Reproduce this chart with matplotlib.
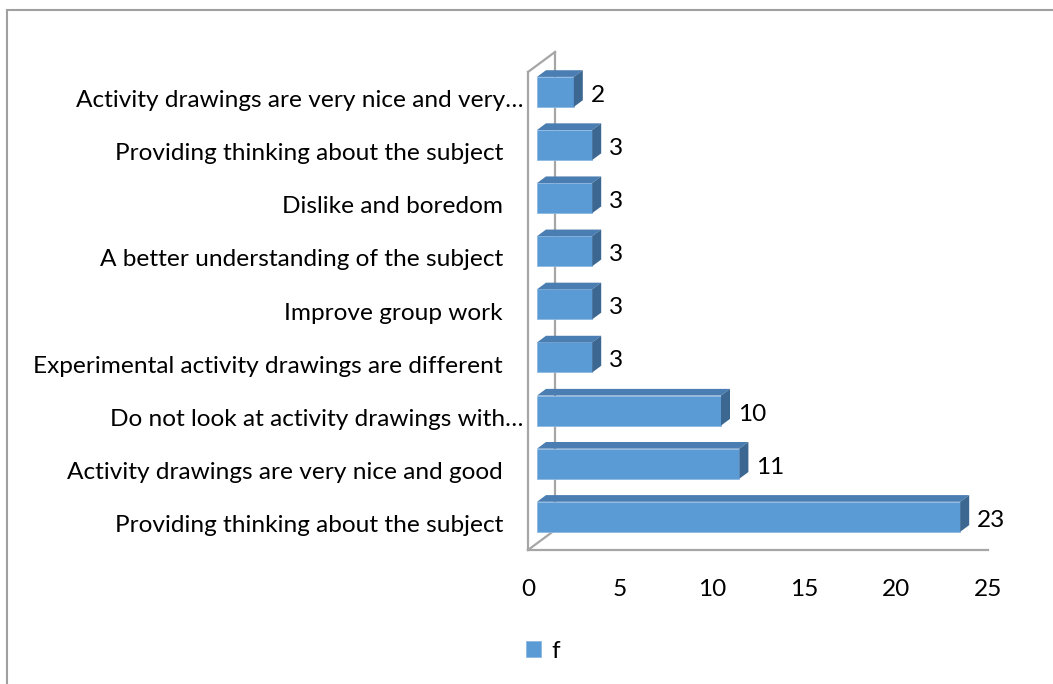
import matplotlib.pyplot as plt
from matplotlib.patches import Polygon, Rectangle
from matplotlib.transforms import ScaledTranslation

plt.rcParams['font.family'] = ['Lato', 'DejaVu Sans']

# categories listed bottom to top
categories = [
    "Providing thinking about the subject ",
    "Activity drawings are very nice and good ",
    "Do not look at activity drawings with\u2026",
    "Experimental activity drawings are different ",
    "Improve group work ",
    "A better understanding of the subject ",
    "Dislike and boredom ",
    "Providing thinking about the subject ",
    "Activity drawings are very nice and very\u2026",
]
counts = [23, 11, 10, 3, 3, 3, 3, 3, 2]
xticks = [0, 5, 10, 15, 20, 25]
series_name = "f"

FRONT = "#5B9BD5"
TOP = "#4A7DB1"
SIDE = "#3B6791"
WALL = "#A6A6A6"
FS = 17.6

W, H = 1053, 684
fig = plt.figure(figsize=(W / 100, H / 100), dpi=100)
ax = fig.add_axes([528 / W, (H - 550) / H, 460 / W, 478 / H])
n = len(categories)
xmax = xticks[-1]
ax.set_xlim(0, xmax)
ax.set_ylim(-0.5, n - 0.5)

# depth of the 3-D box (pixels -> data units)
DX = 27 * xmax / 460
DY = 20 * n / 478
BAR_H = 0.565

# side wall and floor edge
ax.plot([0, 0], [-0.5, n - 0.5], color=WALL, lw=1.6, clip_on=False, zorder=1)
ax.plot([0, DX], [n - 0.5, n - 0.5 + DY], color=WALL, lw=1.6, clip_on=False, zorder=1)
ax.plot([DX, DX], [n - 0.5 + DY, -0.5 + DY], color=WALL, lw=1.6, clip_on=False, zorder=1)
ax.plot([0, DX], [-0.5, -0.5 + DY], color=WALL, lw=1.6, clip_on=False, zorder=1)
ax.plot([0, xmax], [-0.5, -0.5], color=WALL, lw=1.6, clip_on=False, zorder=1)

# bars sit in the middle third of the depth
d1x, d1y = DX / 3, DY / 3
d2x, d2y = 2 * DX / 3, 2 * DY / 3
pos = list(range(n))
bars = ax.barh([p + d1y for p in pos], counts, left=d1x, height=BAR_H,
               color=FRONT, edgecolor="#8DB8E2", linewidth=0.6,
               label=series_name, zorder=3, clip_on=False)
for p, v in zip(pos, counts):
    top = p + BAR_H / 2
    bot = p - BAR_H / 2
    ax.add_patch(Polygon([(d1x, top + d1y), (v + d1x, top + d1y),
                          (v + d2x, top + d2y), (d2x, top + d2y)],
                         closed=True, facecolor=TOP, edgecolor="none",
                         zorder=3, clip_on=False))
    ax.add_patch(Polygon([(v + d1x, bot + d1y), (v + d1x, top + d1y),
                          (v + d2x, top + d2y), (v + d2x, bot + d2y)],
                         closed=True, facecolor=SIDE, edgecolor="none",
                         zorder=3, clip_on=False))

vals = ax.bar_label(bars, labels=[str(v) for v in counts], padding=12, fontsize=FS)
for t in vals:
    # nudge the value labels a little lower
    t.xyann = (t.xyann[0], t.xyann[1] - 2.5)

for s in ax.spines.values():
    s.set_visible(False)
ax.set_xticks(xticks)
ax.set_xticklabels([str(t) for t in xticks])
ax.set_yticks(pos)
ax.set_yticklabels(categories)
ax.tick_params(axis="x", length=0, pad=21, labelsize=FS)
ax.tick_params(axis="y", length=0, pad=13.5, labelsize=FS)

# truncated labels run closer to the wall
for lab in ax.get_yticklabels():
    if lab.get_text().endswith("\u2026"):
        lab.set_transform(lab.get_transform()
                          + ScaledTranslation(14 / 100, 0, fig.dpi_scale_trans))

fig.legend(handles=[bars], loc="center", bbox_to_anchor=(543 / W, 1 - 651 / H),
           frameon=False, fontsize=FS, handlelength=0.6, handleheight=0.6,
           handletextpad=0.4)

# chart area border
fig.patches.append(Rectangle((7 / W, -0.1), 1.2, 1 - 10 / H + 0.1,
                             transform=fig.transFigure, fill=False,
                             edgecolor="#A0A0A0", lw=1.5))

fig.savefig("out.png", dpi=100)
